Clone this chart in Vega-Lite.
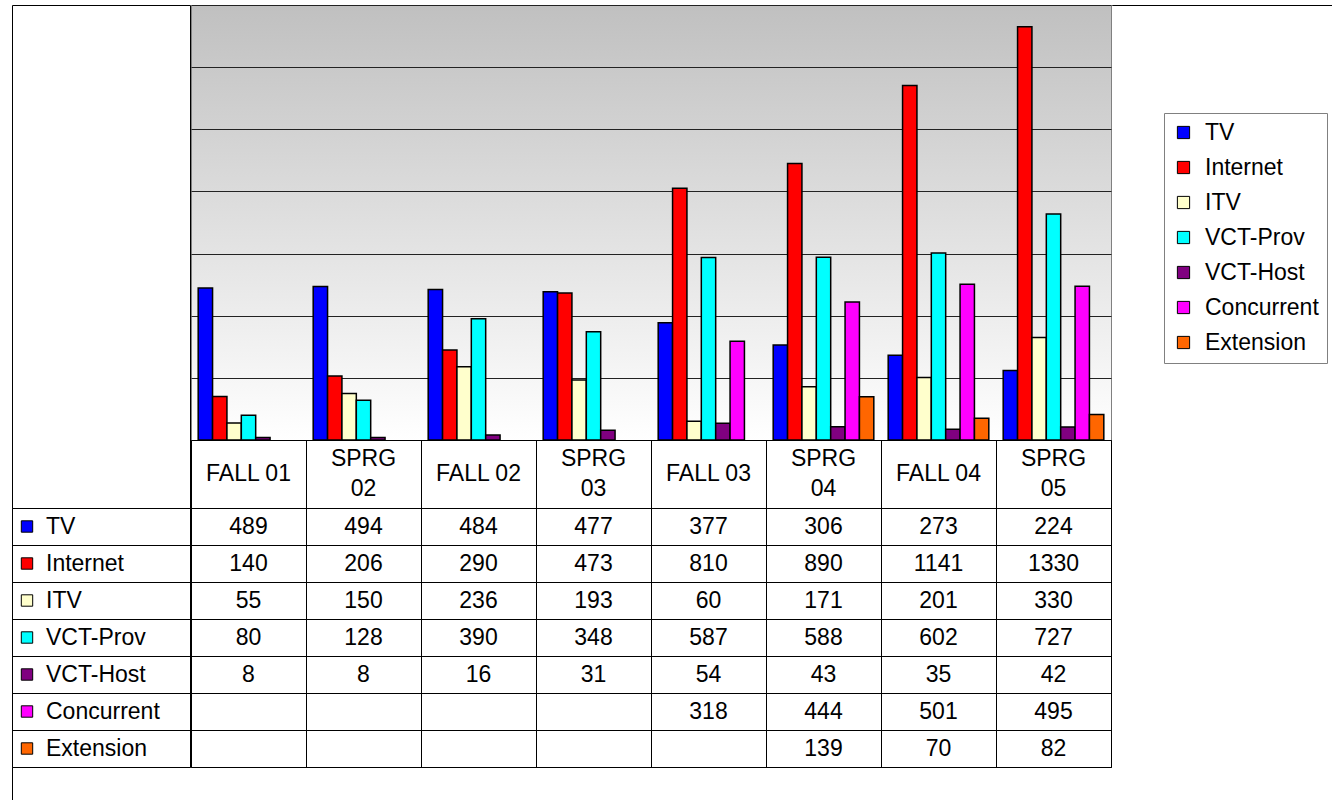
{
  "$schema": "https://vega.github.io/schema/vega-lite/v6.json",
  "padding": {"left": 11, "top": 4, "right": 0, "bottom": 0},
  "background": "white",
  "config": {
    "font": "Liberation Sans",
    "text": {"font": "Liberation Sans", "fontSize": 23, "color": "black"},
    "view": {"stroke": null}
  },
  "datasets": {
    "vals": [
      {"period": "FALL 01", "series": "TV", "value": 489},
      {"period": "SPRG 02", "series": "TV", "value": 494},
      {"period": "FALL 02", "series": "TV", "value": 484},
      {"period": "SPRG 03", "series": "TV", "value": 477},
      {"period": "FALL 03", "series": "TV", "value": 377},
      {"period": "SPRG 04", "series": "TV", "value": 306},
      {"period": "FALL 04", "series": "TV", "value": 273},
      {"period": "SPRG 05", "series": "TV", "value": 224},
      {"period": "FALL 01", "series": "Internet", "value": 140},
      {"period": "SPRG 02", "series": "Internet", "value": 206},
      {"period": "FALL 02", "series": "Internet", "value": 290},
      {"period": "SPRG 03", "series": "Internet", "value": 473},
      {"period": "FALL 03", "series": "Internet", "value": 810},
      {"period": "SPRG 04", "series": "Internet", "value": 890},
      {"period": "FALL 04", "series": "Internet", "value": 1141},
      {"period": "SPRG 05", "series": "Internet", "value": 1330},
      {"period": "FALL 01", "series": "ITV", "value": 55},
      {"period": "SPRG 02", "series": "ITV", "value": 150},
      {"period": "FALL 02", "series": "ITV", "value": 236},
      {"period": "SPRG 03", "series": "ITV", "value": 193},
      {"period": "FALL 03", "series": "ITV", "value": 60},
      {"period": "SPRG 04", "series": "ITV", "value": 171},
      {"period": "FALL 04", "series": "ITV", "value": 201},
      {"period": "SPRG 05", "series": "ITV", "value": 330},
      {"period": "FALL 01", "series": "VCT-Prov", "value": 80},
      {"period": "SPRG 02", "series": "VCT-Prov", "value": 128},
      {"period": "FALL 02", "series": "VCT-Prov", "value": 390},
      {"period": "SPRG 03", "series": "VCT-Prov", "value": 348},
      {"period": "FALL 03", "series": "VCT-Prov", "value": 587},
      {"period": "SPRG 04", "series": "VCT-Prov", "value": 588},
      {"period": "FALL 04", "series": "VCT-Prov", "value": 602},
      {"period": "SPRG 05", "series": "VCT-Prov", "value": 727},
      {"period": "FALL 01", "series": "VCT-Host", "value": 8},
      {"period": "SPRG 02", "series": "VCT-Host", "value": 8},
      {"period": "FALL 02", "series": "VCT-Host", "value": 16},
      {"period": "SPRG 03", "series": "VCT-Host", "value": 31},
      {"period": "FALL 03", "series": "VCT-Host", "value": 54},
      {"period": "SPRG 04", "series": "VCT-Host", "value": 43},
      {"period": "FALL 04", "series": "VCT-Host", "value": 35},
      {"period": "SPRG 05", "series": "VCT-Host", "value": 42},
      {"period": "FALL 03", "series": "Concurrent", "value": 318},
      {"period": "SPRG 04", "series": "Concurrent", "value": 444},
      {"period": "FALL 04", "series": "Concurrent", "value": 501},
      {"period": "SPRG 05", "series": "Concurrent", "value": 495},
      {"period": "SPRG 04", "series": "Extension", "value": 139},
      {"period": "FALL 04", "series": "Extension", "value": 70},
      {"period": "SPRG 05", "series": "Extension", "value": 82}
    ],
    "periods": [
      {"period": "FALL 01", "header": "FALL 01", "lines": 1},
      {"period": "SPRG 02", "header": "SPRG\n02", "lines": 2},
      {"period": "FALL 02", "header": "FALL 02", "lines": 1},
      {"period": "SPRG 03", "header": "SPRG\n03", "lines": 2},
      {"period": "FALL 03", "header": "FALL 03", "lines": 1},
      {"period": "SPRG 04", "header": "SPRG\n04", "lines": 2},
      {"period": "FALL 04", "header": "FALL 04", "lines": 1},
      {"period": "SPRG 05", "header": "SPRG\n05", "lines": 2}
    ],
    "series": [
      {"series": "TV"},
      {"series": "Internet"},
      {"series": "ITV"},
      {"series": "VCT-Prov"},
      {"series": "VCT-Host"},
      {"series": "Concurrent"},
      {"series": "Extension"}
    ],
    "blank": [{"k": 1}]
  },
  "spacing": -2,
  "bounds": "full",
  "resolve": {"scale": {"x": "independent", "y": "independent", "color": "independent"}, "legend": {"color": "independent"}},
  "hconcat": [
    {
      "spacing": 0,
      "bounds": "flush",
      "resolve": {"scale": {"x": "independent", "y": "independent", "color": "independent"}, "legend": {"color": "independent"}},
      "vconcat": [
        {
          "width": 178,
          "height": 503,
          "data": {"name": "blank"},
          "view": {"stroke": "black", "strokeWidth": 1},
          "mark": {"type": "text"},
          "encoding": {"text": {"value": ""}}
        },
        {
          "width": 178,
          "height": 259,
          "data": {"name": "series"},
          "view": {"stroke": "black", "strokeWidth": 1},
          "encoding": {
            "y": {
              "field": "series",
              "type": "nominal",
              "scale": {"domain": ["TV", "Internet", "ITV", "VCT-Prov", "VCT-Host", "Concurrent", "Extension"], "paddingInner": 0, "paddingOuter": 0},
              "axis": {"grid": true, "tickBand": "extent", "labels": false, "ticks": false, "domain": false, "title": null, "gridColor": "black", "gridWidth": 1, "gridOpacity": 1, "minExtent": 0, "maxExtent": 0}
            }
          },
          "layer": [
            {
              "mark": {"type": "point", "shape": "square", "filled": true, "size": 130, "stroke": "black", "strokeWidth": 1, "opacity": 1},
              "encoding": {
                "x": {"value": 15},
                "color": {
                  "field": "series",
                  "type": "nominal",
                  "scale": {"domain": ["TV", "Internet", "ITV", "VCT-Prov", "VCT-Host", "Concurrent", "Extension"], "range": ["#0000FF", "#FF0000", "#FFFFCC", "#00FFFF", "#800080", "#FF00FF", "#FF6600"]},
                  "legend": null
                }
              }
            },
            {
              "mark": {"type": "text", "align": "left", "fontSize": 23},
              "encoding": {"x": {"value": 34}, "text": {"field": "series", "type": "nominal"}}
            }
          ]
        },
        {
          "width": 0.01,
          "height": 33,
          "data": {"name": "blank"},
          "view": {"stroke": "black", "strokeWidth": 1},
          "mark": {"type": "text"},
          "encoding": {"text": {"value": ""}}
        }
      ]
    },
    {
      "spacing": 0,
      "bounds": "flush",
      "resolve": {"scale": {"x": "independent", "y": "independent", "color": "independent"}, "legend": {"color": "independent"}},
      "vconcat": [
        {
          "width": 920,
          "height": 435,
          "data": {"name": "vals"},
          "view": {
            "stroke": "#808080",
            "strokeWidth": 1,
            "fill": {"gradient": "linear", "x1": 0, "y1": 0, "x2": 0, "y2": 1, "stops": [{"offset": 0, "color": "#C0C0C0"}, {"offset": 1, "color": "#FFFFFF"}]}
          },
          "mark": {"type": "bar", "stroke": "black", "strokeWidth": 1.5},
          "encoding": {
            "x": {
              "field": "period",
              "type": "nominal",
              "scale": {"domain": ["FALL 01", "SPRG 02", "FALL 02", "SPRG 03", "FALL 03", "SPRG 04", "FALL 04", "SPRG 05"], "paddingInner": 0, "paddingOuter": 0},
              "axis": null
            },
            "xOffset": {
              "field": "series",
              "type": "nominal",
              "scale": {"domain": ["TV", "Internet", "ITV", "VCT-Prov", "VCT-Host", "Concurrent", "Extension"], "paddingInner": 0, "paddingOuter": 0.5}
            },
            "y": {
              "field": "value",
              "type": "quantitative",
              "scale": {"domain": [0, 1400], "nice": false, "zero": true},
              "axis": {"grid": true, "values": [200, 400, 600, 800, 1000, 1200, 1400], "labels": false, "ticks": false, "domain": false, "title": null, "gridColor": "#222222", "gridWidth": 1, "gridOpacity": 1, "minExtent": 0, "maxExtent": 0}
            },
            "color": {
              "field": "series",
              "type": "nominal",
              "scale": {"domain": ["TV", "Internet", "ITV", "VCT-Prov", "VCT-Host", "Concurrent", "Extension"], "range": ["#0000FF", "#FF0000", "#FFFFCC", "#00FFFF", "#800080", "#FF00FF", "#FF6600"]},
              "legend": null
            }
          }
        },
        {
          "width": 920,
          "height": 68,
          "data": {"name": "periods"},
          "view": {"stroke": "black", "strokeWidth": 1},
          "encoding": {
            "x": {
              "field": "period",
              "type": "nominal",
              "scale": {"domain": ["FALL 01", "SPRG 02", "FALL 02", "SPRG 03", "FALL 03", "SPRG 04", "FALL 04", "SPRG 05"], "paddingInner": 0, "paddingOuter": 0},
              "axis": {"grid": true, "tickBand": "extent", "labels": false, "ticks": false, "domain": false, "title": null, "gridColor": "black", "gridWidth": 1, "gridOpacity": 1, "minExtent": 0, "maxExtent": 0}
            },
            "text": {"field": "header", "type": "nominal"}
          },
          "layer": [
            {
              "transform": [{"filter": "datum.lines == 1"}],
              "mark": {"type": "text", "fontSize": 23, "baseline": "middle"}
            },
            {
              "transform": [{"filter": "datum.lines == 2"}],
              "mark": {"type": "text", "fontSize": 23, "lineBreak": "\n", "lineHeight": 30, "baseline": "middle", "dy": -15}
            }
          ]
        },
        {
          "width": 920,
          "height": 259,
          "data": {"name": "vals"},
          "view": {"stroke": "black", "strokeWidth": 1},
          "mark": {"type": "text", "fontSize": 23},
          "encoding": {
            "x": {
              "field": "period",
              "type": "nominal",
              "scale": {"domain": ["FALL 01", "SPRG 02", "FALL 02", "SPRG 03", "FALL 03", "SPRG 04", "FALL 04", "SPRG 05"], "paddingInner": 0, "paddingOuter": 0},
              "axis": {"grid": true, "tickBand": "extent", "labels": false, "ticks": false, "domain": false, "title": null, "gridColor": "black", "gridWidth": 1, "gridOpacity": 1, "minExtent": 0, "maxExtent": 0}
            },
            "y": {
              "field": "series",
              "type": "nominal",
              "scale": {"domain": ["TV", "Internet", "ITV", "VCT-Prov", "VCT-Host", "Concurrent", "Extension"], "paddingInner": 0, "paddingOuter": 0},
              "axis": {"grid": true, "tickBand": "extent", "labels": false, "ticks": false, "domain": false, "title": null, "gridColor": "black", "gridWidth": 1, "gridOpacity": 1, "minExtent": 0, "maxExtent": 0}
            },
            "text": {"field": "value", "type": "quantitative"}
          }
        }
      ]
    },
    {
      "width": 225,
      "height": 0.01,
      "data": {"name": "series"},
      "view": {"stroke": "black", "strokeWidth": 1},
      "mark": {"type": "point", "shape": "square", "filled": true, "opacity": 0, "size": 0},
      "encoding": {
        "color": {
          "field": "series",
          "type": "nominal",
          "scale": {"domain": ["TV", "Internet", "ITV", "VCT-Prov", "VCT-Host", "Concurrent", "Extension"], "range": ["#0000FF", "#FF0000", "#FFFFCC", "#00FFFF", "#800080", "#FF00FF", "#FF6600"]},
          "legend": {
            "orient": "none",
            "legendX": 52,
            "legendY": 108,
            "title": null,
            "symbolType": "square",
            "symbolSize": 150,
            "symbolStrokeColor": "black",
            "symbolStrokeWidth": 1,
            "symbolOpacity": 1,
            "labelFont": "Liberation Sans",
            "labelFontSize": 23,
            "labelColor": "black",
            "labelOffset": 10,
            "labelLimit": 300,
            "rowPadding": 11,
            "padding": 8,
            "strokeColor": "#808080",
            "fillColor": "white"
          }
        }
      }
    }
  ]
}
